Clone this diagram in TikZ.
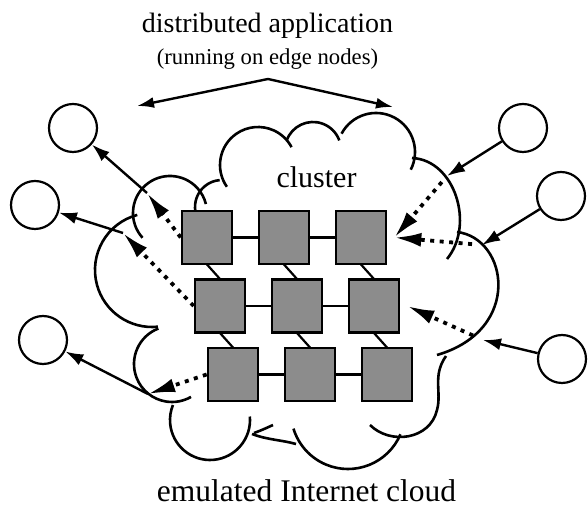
\documentclass[tikz,border=0pt]{standalone}
\usepackage{fontspec}
\setmainfont{Liberation Serif}
\usetikzlibrary{arrows.meta}

\begin{document}
\begin{tikzpicture}[x=1pt, y=1pt,
    box/.style={draw, line width=2.6pt, fill=black!45, minimum width=50pt, minimum height=53pt, inner sep=0pt},
    host/.style={draw, circle, line width=2.2pt, minimum size=48pt, inner sep=0pt},
    cloudline/.style={line width=2.6pt},
    conn/.style={line width=2.2pt},
    arr/.style={line width=2.4pt, -{Latex[length=18pt, width=12pt]}},
    dotarr/.style={line width=3.8pt, dash pattern=on 4pt off 5.5pt, -{Latex[length=27pt, width=14pt]}}]

\useasboundingbox (0,0) rectangle (588,510);

% labels
\node[anchor=base, font=\fontsize{28}{30}\selectfont] (title) at (267.5,477) {distributed application};
\node[anchor=base, font=\fontsize{22.7}{25}\selectfont] (sub) at (267.5,445) {(running on edge nodes)};
\node[anchor=base, font=\fontsize{30}{32}\selectfont] (clus) at (316.5,322) {cluster};
\node[anchor=base, font=\fontsize{31.5}{34}\selectfont] (cloudname) at (306.5,8) {emulated Internet cloud};

% cloud outline, bump by bump
\foreach \cx/\cy/\r/\a/\b in {170/297/37/222/14, 222/303/27/190/95, 258/345/38/215/28,
    313/360/28/160/20, 376/358/39/152/-27, 348/98/57/-23/-163, 210/90/40/5/-202,
    172/146/38/111/300, 152/240/57/105/276}
  \draw[cloudline] ([shift={(\a:\r)}]\cx,\cy) arc[start angle=\a, end angle=\b, radius=\r];
\draw[cloudline] (412,352) .. controls (455,350) and (475,285) .. (447,251);
\draw[cloudline] (457,278) .. controls (508,272) and (523,180) .. (437,155);
\draw[cloudline] (446,154) .. controls (432,134) and (442,118) .. (437,100)
  .. controls (430,70) and (390,65) .. (370,85);
\draw[cloudline] (252,76) .. controls (268,70) and (282,70) .. (296,66);
\draw[cloudline] (254,77) .. controls (262,80) .. (273,85);

% cluster machines
\foreach \r in {1,2,3}
  \foreach \c in {1,2,3}
    \coordinate (p\r\c) at ({207+13*(\r-1)+77*(\c-1)}, {272.5-68.5*(\r-1)});
\foreach \r in {1,2,3}
  \draw[conn] (p\r1) -- (p\r3);
\foreach \c in {1,2,3}
  \draw[conn] ([shift={(0,-27)}]p1\c) -- ([shift={(0,27)}]p2\c)
              ([shift={(0,-27)}]p2\c) -- ([shift={(0,27)}]p3\c);
\foreach \r in {1,2,3}
  \foreach \c in {1,2,3}
    \node[box] (s\r\c) at (p\r\c) {};

% edge nodes
\node[host] (h1) at (73,382) {};
\node[host] (h2) at (35,305) {};
\node[host] (h3) at (43,170) {};
\node[host] (h4) at (523,382) {};
\node[host] (h5) at (561,314) {};
\node[host] (h6) at (562,151) {};

% where the paths cross the cloud
\coordinate (l1) at (147,317);
\coordinate (l2) at (123,277);
\coordinate (l3) at (148,116);
\coordinate (r1) at (447,334);
\coordinate (r2) at (482,265);
\coordinate (r3) at (483,170);
\coordinate (t1) at ([xshift=7pt]s13.east);
\coordinate (t2) at ([xshift=7pt]s23.east);

% traffic out of the cluster
\draw[dotarr] (s11.west) -- (l1);
\draw[arr] (l1) -- (h1);
\draw[dotarr] (s21.west) -- (l2);
\draw[arr] (l2) -- (h2);
\draw[dotarr] (s31.west) -- (l3);
\draw[arr] (l3) -- (h3);

% traffic into the cluster
\draw[arr] (h4) -- (r1);
\draw[dotarr, shorten <=8pt] (r1) -- (t1);
\draw[arr] (h5) -- (r2);
\draw[dotarr, shorten <=10pt] (r2) -- (t1);
\draw[arr] (h6) -- (r3);
\draw[dotarr, shorten <=11pt] (r3) -- (t2);

% application spread
\coordinate (al) at (137,404);
\coordinate (apex) at (268,431);
\coordinate (ar) at (393,403);
\draw[line width=2.4pt, {Latex[length=17pt, width=11pt]}-{Latex[length=17pt, width=11pt]}] (al) -- (apex) -- (ar);
\end{tikzpicture}
\end{document}
